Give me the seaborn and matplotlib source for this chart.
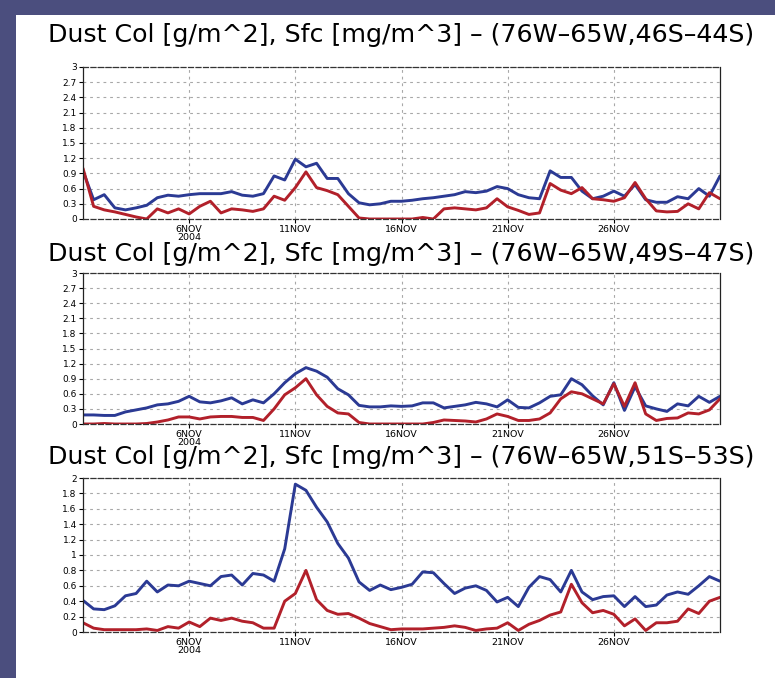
import numpy as np
import pandas as pd
import matplotlib
matplotlib.use("Agg")
import matplotlib.pyplot as plt
import seaborn as sns
from matplotlib.patches import Rectangle

sns.set_style("white")
plt.rcParams['font.family'] = ['DejaVu Sans']

# 12-hourly samples, 1 Nov 2004 00Z .. 1 Dec 2004 00Z
times = pd.date_range("2004-11-01", "2004-12-01", freq="12h")

# Panel 1 (76W-65W, 46S-44S)
col_46S = [0.95, 0.38, 0.48, 0.22, 0.18, 0.22, 0.27, 0.42, 0.47, 0.45,
           0.48, 0.50, 0.50, 0.50, 0.54, 0.47, 0.45, 0.50, 0.85, 0.77,
           1.18, 1.03, 1.10, 0.80, 0.80, 0.50, 0.32, 0.28, 0.30, 0.35,
           0.35, 0.37, 0.40, 0.42, 0.45, 0.48, 0.54, 0.52, 0.55, 0.64,
           0.60, 0.48, 0.42, 0.40, 0.95, 0.82, 0.82, 0.55, 0.40, 0.45,
           0.55, 0.45, 0.68, 0.38, 0.33, 0.33, 0.44, 0.40, 0.60, 0.45,
           0.85]
sfc_46S = [1.00, 0.25, 0.18, 0.14, 0.09, 0.04, 0.00, 0.20, 0.12, 0.20,
           0.10, 0.25, 0.35, 0.12, 0.20, 0.18, 0.15, 0.20, 0.45, 0.37,
           0.62, 0.93, 0.62, 0.56, 0.48, 0.25, 0.02, 0.00, 0.00, 0.00,
           0.00, 0.00, 0.03, 0.00, 0.20, 0.22, 0.20, 0.18, 0.22, 0.40,
           0.24, 0.17, 0.09, 0.12, 0.70, 0.57, 0.50, 0.62, 0.40, 0.38,
           0.35, 0.42, 0.72, 0.40, 0.16, 0.14, 0.15, 0.30, 0.20, 0.52,
           0.40]

# Panel 2 (76W-65W, 49S-47S)
col_49S = [0.18, 0.18, 0.17, 0.17, 0.24, 0.28, 0.32, 0.38, 0.40, 0.45,
           0.55, 0.44, 0.42, 0.46, 0.52, 0.40, 0.48, 0.42, 0.60, 0.82,
           1.00, 1.12, 1.05, 0.93, 0.70, 0.58, 0.37, 0.34, 0.34, 0.36,
           0.35, 0.36, 0.42, 0.42, 0.32, 0.35, 0.38, 0.43, 0.40, 0.34,
           0.48, 0.33, 0.32, 0.42, 0.55, 0.58, 0.90, 0.78, 0.56, 0.38,
           0.82, 0.27, 0.74, 0.36, 0.30, 0.25, 0.40, 0.36, 0.55, 0.43,
           0.55]
sfc_49S = [0.00, 0.00, 0.01, 0.00, 0.00, 0.00, 0.01, 0.04, 0.08, 0.14,
           0.14, 0.10, 0.14, 0.15, 0.15, 0.13, 0.13, 0.07, 0.30, 0.58,
           0.72, 0.90, 0.58, 0.35, 0.22, 0.20, 0.03, 0.00, 0.00, 0.00,
           0.00, 0.00, 0.00, 0.03, 0.08, 0.07, 0.06, 0.04, 0.10, 0.20,
           0.15, 0.07, 0.07, 0.10, 0.22, 0.50, 0.64, 0.60, 0.50, 0.40,
           0.80, 0.35, 0.82, 0.20, 0.07, 0.11, 0.12, 0.22, 0.20, 0.28,
           0.50]

# Panel 3 (76W-65W, 51S-53S)
col_51S = [0.41, 0.30, 0.29, 0.34, 0.47, 0.50, 0.66, 0.52, 0.61, 0.60,
           0.66, 0.63, 0.60, 0.72, 0.74, 0.61, 0.76, 0.74, 0.66, 1.08,
           1.92, 1.84, 1.62, 1.43, 1.15, 0.96, 0.65, 0.54, 0.61, 0.55,
           0.58, 0.62, 0.78, 0.77, 0.63, 0.50, 0.57, 0.60, 0.54, 0.39,
           0.45, 0.33, 0.58, 0.72, 0.68, 0.52, 0.80, 0.52, 0.42, 0.46,
           0.47, 0.33, 0.46, 0.33, 0.35, 0.48, 0.52, 0.49, 0.60, 0.72,
           0.66]
sfc_51S = [0.12, 0.05, 0.03, 0.03, 0.03, 0.03, 0.04, 0.02, 0.07, 0.05,
           0.13, 0.07, 0.18, 0.15, 0.18, 0.14, 0.12, 0.05, 0.05, 0.40,
           0.50, 0.80, 0.42, 0.28, 0.23, 0.24, 0.18, 0.11, 0.07, 0.03,
           0.04, 0.04, 0.04, 0.05, 0.06, 0.08, 0.06, 0.02, 0.04, 0.05,
           0.12, 0.02, 0.10, 0.15, 0.22, 0.26, 0.62, 0.38, 0.25, 0.28,
           0.23, 0.08, 0.17, 0.02, 0.12, 0.12, 0.14, 0.30, 0.24, 0.40,
           0.45]

titles = ["Dust Col [g/m^2], Sfc [mg/m^3] \u2013 (76W\u201365W,46S\u201344S)",
          "Dust Col [g/m^2], Sfc [mg/m^3] \u2013 (76W\u201365W,49S\u201347S)",
          "Dust Col [g/m^2], Sfc [mg/m^3] \u2013 (76W\u201365W,51S\u201353S)"]
xtick_dates = ["2004-11-06", "2004-11-11", "2004-11-16", "2004-11-21", "2004-11-26"]
xtick_labels = ["6NOV\n2004", "11NOV", "16NOV", "21NOV", "26NOV"]
yticks_03 = [0, 0.3, 0.6, 0.9, 1.2, 1.5, 1.8, 2.1, 2.4, 2.7, 3]
yticks_02 = [0, 0.2, 0.4, 0.6, 0.8, 1, 1.2, 1.4, 1.6, 1.8, 2]

panels = [(col_46S, sfc_46S, yticks_03), (col_49S, sfc_49S, yticks_03),
          (col_51S, sfc_51S, yticks_02)]

W, H = 775, 678
BG = "#4b4e7e"
BLUE = "#2b3a94"
RED = "#b2202a"

fig = plt.figure(figsize=(W / 100, H / 100), dpi=100)
fig.patch.set_facecolor(BG)
fig.patches.append(Rectangle((16 / W, 0), 1 - 16 / W, 1 - 15 / H,
                             transform=fig.transFigure, facecolor="white",
                             edgecolor="none", zorder=-10))

# pixel boxes: (left, top, right, bottom)
boxes = [(83, 67, 720, 219), (83, 273, 720, 424), (83, 478, 720, 632)]
title_y = [35, 254, 457]

for i, ((col, sfc, yt), (l, t, r, b)) in enumerate(zip(panels, boxes)):
    ax = fig.add_axes([l / W, 1 - b / H, (r - l) / W, (b - t) / H])
    ax.set_facecolor("white")
    df = pd.DataFrame({"time": times, "col": col, "sfc": sfc})
    sns.lineplot(data=df, x="time", y="col", color=BLUE, lw=2.1, ax=ax)
    sns.lineplot(data=df, x="time", y="sfc", color=RED, lw=2.1, ax=ax)
    ax.set_xlim(pd.Timestamp("2004-11-01"), pd.Timestamp("2004-12-01"))
    ax.set_ylim(yt[0], yt[-1])
    ax.set_yticks(yt)
    ax.set_yticklabels(["%g" % v for v in yt], fontsize=6.5)
    ax.set_xticks(pd.to_datetime(xtick_dates))
    ax.set_xticklabels(xtick_labels, fontsize=6.8, linespacing=0.85)
    ax.set_xlabel("")
    ax.set_ylabel("")
    ax.grid(True, color="#a8a8a8", linestyle=(0, (2.5, 3.5)), lw=0.8)
    ax.tick_params(axis="both", direction="out", length=3, width=0.8,
                   pad=1.5, colors="black", bottom=True, left=True)
    for s in ["left", "right"]:
        ax.spines[s].set_color("#222222")
        ax.spines[s].set_linewidth(0.9)
    for s in ["top", "bottom"]:
        ax.spines[s].set_color("#333333")
        ax.spines[s].set_linewidth(0.9)
        ax.spines[s].set_linestyle((0, (4, 2)))
    fig.text(401 / W, 1 - title_y[i] / H, titles[i], ha="center", va="center",
             fontsize=18.2, color="black", zorder=5)

fig.savefig("out.png", dpi=100, facecolor=fig.get_facecolor())
